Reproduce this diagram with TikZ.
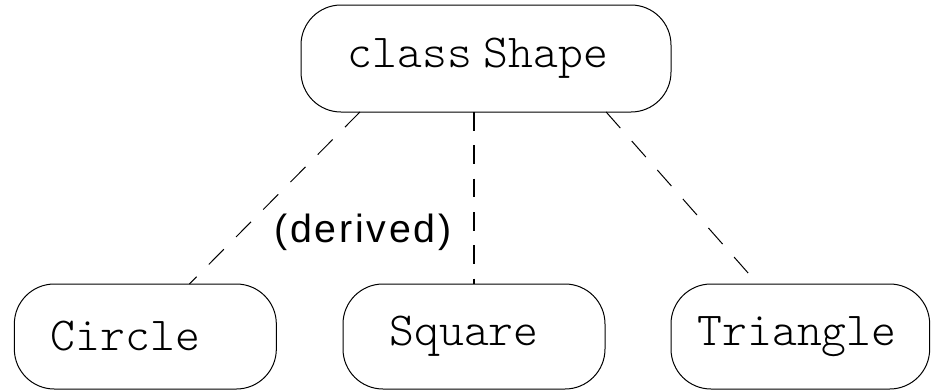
\documentclass[tikz,border=0pt]{standalone}
\usepackage{fontspec}
\setmainfont{Liberation Sans}
\setmonofont{Latin Modern Mono Light}
\usetikzlibrary{positioning}

\begin{document}
\begin{tikzpicture}[
    node distance=129pt and 50pt,
    every node/.style={font=\ttfamily\fontsize{35.5}{40}\selectfont},
    cls/.style={rectangle, draw, line width=0.75pt, rounded corners=30pt, outer sep=0pt, align=center},
    base/.style={cls, minimum width=277.5pt, minimum height=80.25pt},
    leaf/.style={cls, minimum width=196.5pt, minimum height=78.75pt},
    link/.style={dashed, line width=0.75pt, dash pattern=on 16pt off 13pt},
    mainlink/.style={line width=1.5pt, dash pattern=on 14pt off 11pt},
]
\useasboundingbox (0,0) rectangle (698.25pt,-292.5pt);

\node[base] (shape) at (364.5pt,-43.875pt) {class\hspace{0.25em}Shape\hspace{12pt}};
\node[leaf, below=of shape, xshift=-9pt] (square) {Square\hspace{15pt}};
\node[leaf, left=of square] (circle) {Circle\hspace{30pt}};
\node[leaf, right=49.5pt of square, minimum width=194pt] (triangle) {Triangle\hspace{5pt}};

\draw[link] (shape.203.3) -- node[pos=0.7, right=25pt, inner sep=0pt,
    font=\rmfamily\fontsize{29.5}{36}\selectfont\addfontfeature{LetterSpace=7}] (drv) {(derived)} (circle.50.4);
\draw[mainlink] (square.north |- shape.south) -- (square.north);
\draw[link] (shape.336) -- (triangle.129);
\end{tikzpicture}
\end{document}
